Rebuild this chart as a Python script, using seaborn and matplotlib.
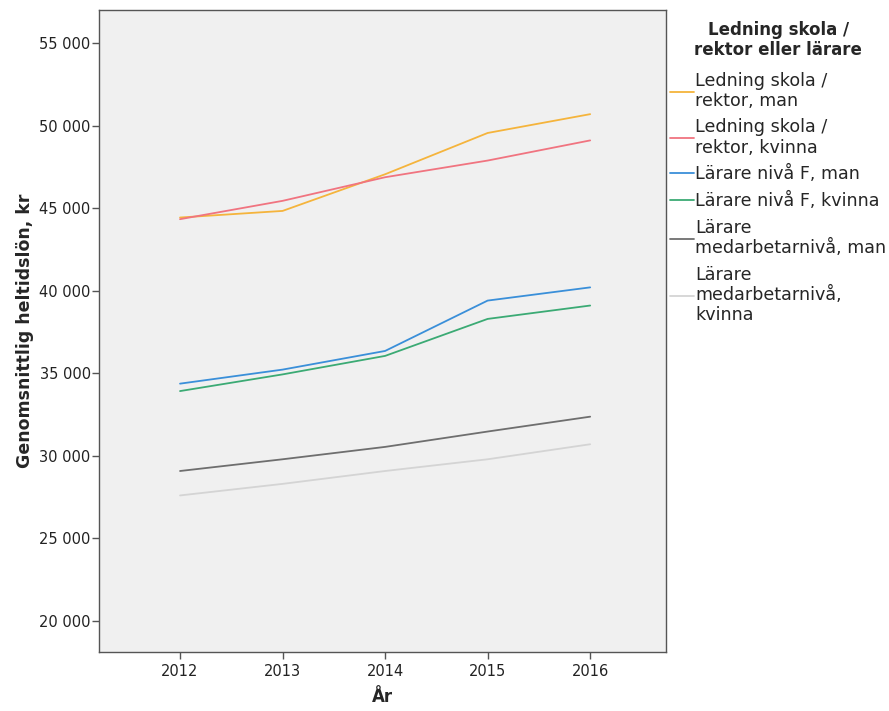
import matplotlib
matplotlib.use("Agg")
import matplotlib.pyplot as plt
import seaborn as sns
import pandas as pd
from matplotlib.ticker import FuncFormatter, FixedLocator

years = [2012, 2013, 2014, 2015, 2016]
groups = [
    "Ledning skola /\nrektor, man",
    "Ledning skola /\nrektor, kvinna",
    "Lärare nivå F, man",
    "Lärare nivå F, kvinna",
    "Lärare\nmedarbetarnivå, man",
    "Lärare\nmedarbetarnivå,\nkvinna",
]
ledning_man = [44430, 44830, 47050, 49550, 50690]
ledning_kvinna = [44330, 45440, 46870, 47880, 49100]
larare_f_man = [34370, 35220, 36350, 39400, 40200]
larare_f_kvinna = [33920, 34930, 36050, 38290, 39100]
larare_med_man = [29080, 29790, 30540, 31470, 32370]
larare_med_kvinna = [27600, 28300, 29080, 29790, 30700]
series = [ledning_man, ledning_kvinna, larare_f_man, larare_f_kvinna,
          larare_med_man, larare_med_kvinna]
colors = ["#F5B43C", "#F07480", "#3A8FD9", "#3BAA74", "#6E6E6E", "#D4D4D4"]
yticks = [20000, 25000, 30000, 35000, 40000, 45000, 50000, 55000]

rows = []
for g, vals in zip(groups, series):
    for yr, v in zip(years, vals):
        rows.append({"År": yr, "lon": v, "grupp": g})
df = pd.DataFrame(rows)

sns.set_style("white")
plt.rcParams["font.family"] = ["DejaVu Sans"]

fig = plt.figure(figsize=(8.89, 7.11), dpi=100)
ax = fig.add_axes([0.1114, 0.083, 0.6378, 0.903])
ax.set_facecolor("#F0F0F0")

sns.lineplot(data=df, x="År", y="lon", hue="grupp", hue_order=groups,
             palette=colors, linewidth=1.3, ax=ax, legend=True)

ax.set_xlim(2011.21, 2016.74)
ax.set_ylim(18120, 57000)
ax.xaxis.set_major_locator(FixedLocator(years))
ax.yaxis.set_major_locator(FixedLocator(yticks))
ax.yaxis.set_major_formatter(FuncFormatter(lambda v, p: f"{int(v):,}".replace(",", " ")))
ax.xaxis.set_major_formatter(FuncFormatter(lambda v, p: f"{int(v)}"))

for s in ax.spines.values():
    s.set_color("#555555")
    s.set_linewidth(1.0)
ax.tick_params(axis="both", which="major", direction="out", length=5, width=1,
               color="#555555", labelsize=10.5, labelcolor="#222222",
               left=True, bottom=True)
ax.tick_params(axis="y", pad=1)
ax.tick_params(axis="x", pad=4)

ax.set_xlabel("År", fontsize=12, fontweight="bold", labelpad=6)
ax.set_ylabel("Genomsnittlig heltidslön, kr", fontsize=12.5, fontweight="bold", labelpad=4)

leg = ax.legend(title="Ledning skola /\nrektor eller lärare", loc="upper left",
                frameon=False, fontsize=12.6,
                title_fontproperties={"weight": "bold", "size": 12},
                handlelength=1.35, handletextpad=0.1, labelspacing=0.5,
                borderaxespad=0.0, borderpad=0.0, alignment="center")
leg.set_bbox_to_anchor((670 / 889, 1 - 21 / 711), transform=fig.transFigure)
leg.get_title().set_multialignment("center")
leg.get_title().set_linespacing(1.15)
for t in leg.get_texts():
    t.set_linespacing(1.15)
for line in leg.get_lines():
    line.set_linewidth(1.3)
leg._legend_box.sep = 9

fig.savefig("out.png", dpi=100)
